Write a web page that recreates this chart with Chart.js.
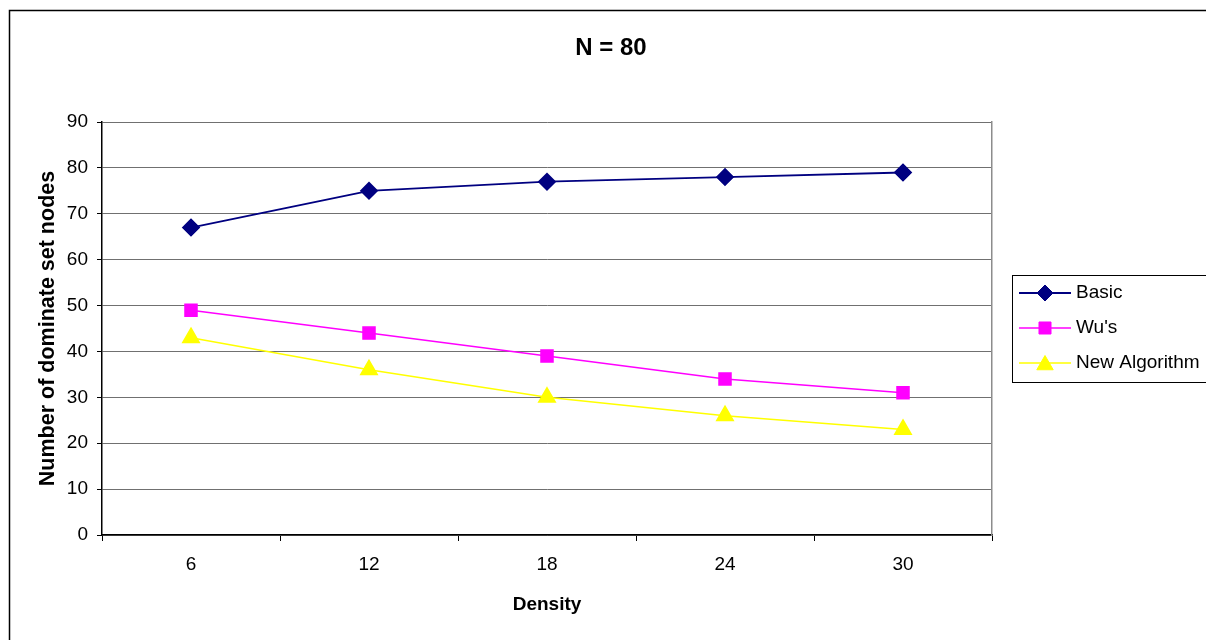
<!DOCTYPE html>
<html lang="en">
  <head>
    <meta charset="utf-8">
    <title>N = 80</title>
    <style>
      body {
        margin: 0;
        background-color: #fff;
      }
      #wrap {
        width: 1206px;
        height: 640px;
      }
    </style>
  </head>
  <body>
    <div id="wrap">
      <canvas id="myChart" width="1206" height="640"></canvas>
    </div>
    <script src="https://cdn.jsdelivr.net/npm/chart.js@4.4.1/dist/chart.umd.min.js"></script>
    <script>
      // values
      let density = ['6', '12', '18', '24', '30'];
      let basic = [67, 75, 77, 78, 79];
      let wus = [49, 44, 39, 34, 31];
      let newAlgo = [43, 36, 30, 26, 23];
      let seriesNames = ['Basic', "Wu's", 'New Algorithm'];

      let fontName = '"Liberation Sans", Arial, sans-serif';

      // outer frame, like the excel chart border
      let frame = {
        id: 'frame',
        beforeDraw(chart) {
          let ctx = chart.ctx;
          ctx.save();
          ctx.strokeStyle = '#000';
          ctx.lineWidth = 1.5;
          ctx.strokeRect(9.5, 10.5, 1300, 700);
          ctx.restore();
        }
      };

      // legend with line + marker, drawn to the right
      let sideLegend = {
        id: 'sideLegend',
        afterDraw(chart) {
          let ctx = chart.ctx;
          ctx.save();
          ctx.strokeStyle = '#000';
          ctx.lineWidth = 1;
          ctx.strokeRect(1012.5, 275.5, 300, 107);
          ctx.font = '19px ' + fontName;
          ctx.textBaseline = 'middle';
          chart.data.datasets.forEach(function (ds, i) {
            let y = 293 + i * 35;
            ctx.strokeStyle = ds.borderColor;
            ctx.lineWidth = ds.borderWidth;
            ctx.beginPath();
            ctx.moveTo(1019, y);
            ctx.lineTo(1071, y);
            ctx.stroke();
            ctx.fillStyle = ds.pointBackgroundColor;
            ctx.strokeStyle = ds.pointBorderColor;
            ctx.lineWidth = 1;
            Chart.helpers.drawPoint(ctx, {
              pointStyle: ds.pointStyle,
              rotation: 0,
              radius: ds.pointRadius,
              borderWidth: 1
            }, 1045, y + (ds.pointStyle === 'triangle' ? 2 : 0));
            ctx.fillStyle = '#000';
            ctx.fillText(ds.label, 1076, y);
          });
          ctx.restore();
        }
      };

      let ctx = document.getElementById('myChart').getContext('2d');

      let chart1 = new Chart(ctx, {
        type: 'line',
        data: {
          labels: density,
          datasets: [
            {
              label: seriesNames[0],
              data: basic,
              borderColor: '#000080',
              backgroundColor: '#000080',
              pointBackgroundColor: '#000080',
              pointBorderColor: '#000080',
              borderWidth: 1.8,
              pointStyle: 'rectRot',
              pointRadius: 8,
              fill: false
            },
            {
              label: seriesNames[1],
              data: wus,
              borderColor: '#ff00ff',
              backgroundColor: '#ff00ff',
              pointBackgroundColor: '#ff00ff',
              pointBorderColor: '#ff00ff',
              borderWidth: 1.5,
              pointStyle: 'rect',
              pointRadius: 8.5,
              fill: false
            },
            {
              label: seriesNames[2],
              data: newAlgo,
              borderColor: '#ffff00',
              backgroundColor: '#ffff00',
              pointBackgroundColor: '#ffff00',
              pointBorderColor: '#ffff00',
              borderWidth: 1.5,
              pointStyle: 'triangle',
              pointRadius: 9.5,
              fill: false
            }
          ]
        },
        plugins: [frame, sideLegend],
        options: {
          responsive: false,
          animation: false,
          layout: {
            padding: { left: 16, right: 0, top: 0, bottom: 0 }
          },
          plugins: {
            legend: { display: false },
            tooltip: { enabled: false },
            title: {
              display: true,
              text: 'N = 80',
              color: '#000',
              font: { family: fontName, size: 24, weight: 'bold' },
              padding: { top: 34, bottom: 59.2 }
            }
          },
          scales: {
            x: {
              offset: true,
              grid: {
                offset: true,
                drawOnChartArea: false,
                drawTicks: true,
                tickLength: 6,
                tickColor: '#000'
              },
              border: { color: '#000', width: 1.5 },
              ticks: {
                color: '#000',
                padding: 12,
                font: { family: fontName, size: 19 }
              },
              title: {
                display: true,
                text: 'Density',
                color: '#000',
                font: { family: fontName, size: 19, weight: 'bold' },
                padding: { top: 0, bottom: 23.6 }
              },
              afterFit: function (scale) {
                scale.height = 105;
              }
            },
            y: {
              min: 0,
              max: 90,
              ticks: {
                stepSize: 10,
                color: '#000',
                padding: 9,
                font: { family: fontName, size: 19 }
              },
              grid: {
                color: '#707070',
                lineWidth: 1,
                drawTicks: true,
                tickLength: 5,
                tickColor: '#000'
              },
              border: { color: '#000', width: 1.5 },
              title: {
                display: true,
                text: 'Number of dominate set nodes',
                color: '#000',
                font: { family: fontName, size: 21.5, weight: 'bold' },
                padding: { top: 19, bottom: 0 }
              },
              afterFit: function (scale) {
                scale.width = 86;
              }
            },
            yRight: {
              position: 'right',
              min: 0,
              max: 90,
              ticks: { display: false },
              grid: { display: false, drawTicks: false },
              border: { color: '#8c8c8c', width: 1.5 },
              afterFit: function (scale) {
                scale.width = 214;
              }
            }
          }
        }
      });
    </script>
  </body>
</html>
